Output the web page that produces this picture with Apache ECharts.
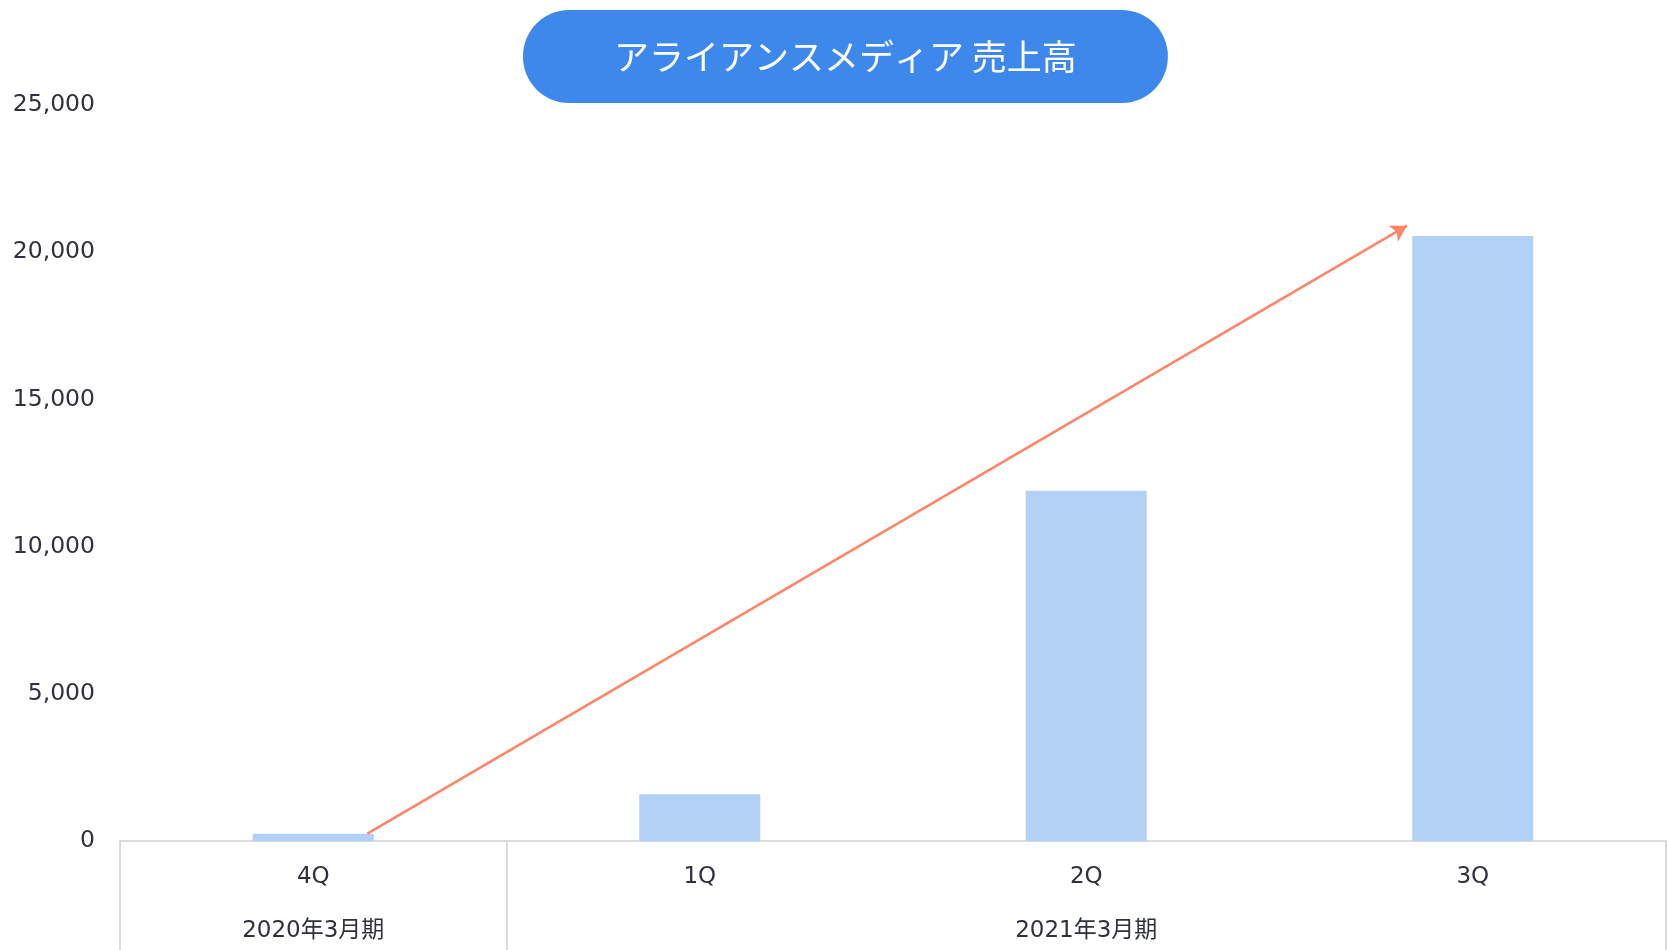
<!DOCTYPE html>
<html>
<head>
<meta charset="utf-8">
<title>アライアンスメディア 売上高</title>
<script src="https://cdn.jsdelivr.net/npm/echarts@6/dist/echarts.min.js"></script>
<style>
  html, body { margin: 0; padding: 0; background: #fff; }
  #chart { width: 1667px; height: 950px; }
</style>
</head>
<body>
<div id="chart"></div>
<script>
// 売上高（四半期）
const quarters = ['4Q', '1Q', '2Q', '3Q']
const periods = ['2020年3月期', '', '2021年3月期', '']
const sales = [250, 1590, 11900, 20550]
const yTicks = [0, 5000, 10000, 15000, 20000, 25000]
// 矢印の始点・終点（x はカテゴリ位置、y は値）
const arrowX = [0.14, 2.83]
const arrowY = [250, 20900]

const textColor = '#2f3140'
const fontFamily = "'DejaVu Sans', 'Noto Sans CJK JP', sans-serif"

const chart = echarts.init(document.getElementById('chart'))
const option = {
  animation: false,
  title: {
    text: 'アライアンスメディア 売上高',
    left: 523,
    top: 10,
    padding: [26, 91],
    backgroundColor: '#3f88eb',
    borderRadius: 46,
    textStyle: {
      color: '#fff',
      fontSize: 35,
      fontWeight: 'normal',
      fontFamily: "'Noto Sans CJK JP', sans-serif",
      lineHeight: 41
    }
  },
  grid: {
    left: 120,
    right: 1,
    top: 105,
    bottom: 109
  },
  xAxis: [
    {
      type: 'category',
      position: 'bottom',
      data: quarters,
      axisLine: { lineStyle: { color: '#d0d0d8', width: 1.5 } },
      axisTick: { show: false },
      axisLabel: { color: textColor, fontSize: 23, fontFamily: fontFamily, margin: 25 }
    },
    {
      type: 'category',
      position: 'bottom',
      offset: 0,
      data: periods,
      axisLine: { show: false },
      axisTick: {
        show: true,
        length: 112,
        interval: function (index) { return index === 0 || index === 1 },
        lineStyle: { color: '#d0d0d8', width: 1.5 }
      },
      axisLabel: { color: textColor, fontSize: 23, fontFamily: fontFamily, margin: 79, interval: 0 }
    },
    {
      type: 'value',
      min: -0.5,
      max: quarters.length - 0.5,
      show: false
    }
  ],
  yAxis: {
    type: 'value',
    min: yTicks[0],
    max: yTicks[yTicks.length - 1],
    interval: yTicks[1] - yTicks[0],
    axisLine: { show: false },
    axisTick: { show: false },
    splitLine: { show: false },
    axisLabel: {
      color: textColor,
      fontSize: 23.5,
      fontFamily: fontFamily,
      margin: 25,
      padding: [4, 0, 0, 0],
      formatter: v => v.toLocaleString('en-US')
    }
  },
  series: [
    {
      name: '売上高',
      type: 'bar',
      xAxisIndex: 0,
      data: sales,
      barWidth: 121,
      itemStyle: { color: '#b3d0f5' }
    },
    {
      name: 'trend',
      type: 'line',
      xAxisIndex: 2,
      data: [],
      silent: true,
      markLine: {
        silent: true,
        symbol: ['none', 'arrow'],
        symbolSize: [14, 16],
        label: { show: false },
        lineStyle: { color: '#ff8566', width: 2.5, type: 'solid' },
        data: [[
          { coord: [arrowX[0], arrowY[0]] },
          { coord: [arrowX[1], arrowY[1]] }
        ]]
      }
    }
  ]
}
chart.setOption(option)
window.addEventListener('resize', () => chart.resize())
</script>
</body>
</html>
